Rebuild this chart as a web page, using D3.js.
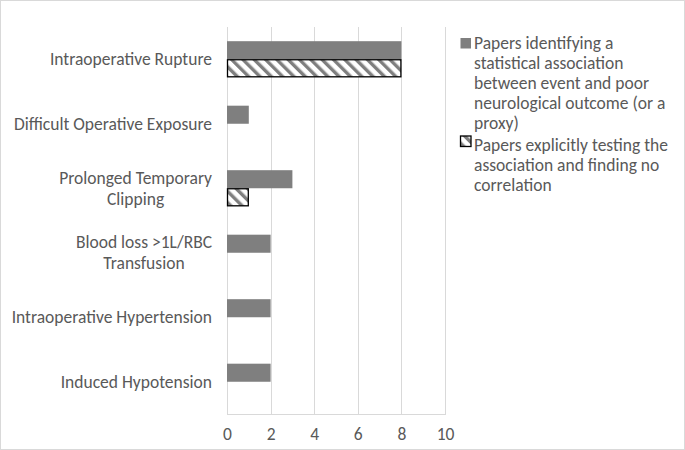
<!DOCTYPE html>
<html>
<head>
<meta charset="utf-8">
<script src="https://cdn.jsdelivr.net/npm/d3@7"></script>
<style>
  body { margin: 0; background: #fff; }
  text { font-family: Carlito, Lato, "Open Sans", sans-serif; fill: #595959; }
</style>
</head>
<body>
<script>
// categories, top to bottom
var categories = [
  ["Intraoperative Rupture"],
  ["Difficult Operative Exposure"],
  ["Prolonged Temporary", "Clipping"],
  ["Blood loss >1L/RBC", "Transfusion"],
  ["Intraoperative Hypertension"],
  ["Induced Hypotension"]
];
var identified = [8, 1, 3, 2, 2, 2];
var noCorrelation = [8, 0, 1, 0, 0, 0];
var xTicks = [0, 2, 4, 6, 8, 10];
var legendLabels = [
  ["Papers identifying a", "statistical association", "between event and poor", "neurological outcome (or a", "proxy)"],
  ["Papers explicitly testing the", "association and finding no", "correlation"]
];

var w = 685, h = 450;
var plot = {left: 227, right: 445, top: 27, bottom: 414};
var fontSize = "17.5px";

var svg = d3.select("body").append("svg")
    .attr("width", w)
    .attr("height", h);

// hatch pattern
var defs = svg.append("defs");
var pat = defs.append("pattern")
    .attr("id", "hatch")
    .attr("patternUnits", "userSpaceOnUse")
    .attr("width", 8)
    .attr("height", 8)
    .attr("patternTransform", "rotate(-45)");
pat.append("rect").attr("width", 8).attr("height", 8).attr("fill", "#fff");
pat.append("rect").attr("width", 3.4).attr("height", 8).attr("fill", "#7f7f7f");

// outer border
svg.append("rect")
    .attr("x", 0.5).attr("y", 0.5)
    .attr("width", w - 1).attr("height", h - 1)
    .attr("fill", "none")
    .attr("stroke", "#d9d9d9");

var x = d3.scaleLinear().domain([0, 10]).range([plot.left, plot.right]);
var y = d3.scaleBand()
    .domain(d3.range(categories.length))
    .range([plot.top, plot.bottom])
    .paddingInner(0.44)
    .paddingOuter(0.22);
var ySub = d3.scaleBand().domain([0, 1]).range([0, y.bandwidth()]);

// gridlines
svg.append("g").selectAll("line")
    .data(xTicks)
    .enter().append("line")
    .attr("x1", function(d) { return Math.round(x(d)) + 0.5; })
    .attr("x2", function(d) { return Math.round(x(d)) + 0.5; })
    .attr("y1", plot.top)
    .attr("y2", plot.bottom)
    .attr("stroke", "#d9d9d9");
svg.append("line")
    .attr("x1", plot.left).attr("x2", plot.right + 1)
    .attr("y1", plot.bottom + 0.5).attr("y2", plot.bottom + 0.5)
    .attr("stroke", "#d9d9d9");

// x axis tick labels
var xAxis = svg.append("g")
    .attr("transform", "translate(0," + (plot.bottom + 3) + ")")
    .call(d3.axisBottom(x).tickValues(xTicks).tickSize(0).tickPadding(11));
xAxis.select(".domain").remove();
xAxis.selectAll("text")
    .style("font-size", fontSize)
    .attr("fill", "#595959")
    .style("font-family", "Carlito, Lato, 'Open Sans', sans-serif");

// bars: papers identifying an association
svg.append("g").selectAll("rect")
    .data(identified)
    .enter().append("rect")
    .attr("x", x(0))
    .attr("y", function(d, i) { return y(i) + ySub(0); })
    .attr("width", function(d) { return x(d) - x(0); })
    .attr("height", ySub.bandwidth())
    .attr("fill", "#7f7f7f");

// bars: papers finding no correlation (hatched)
svg.append("g").selectAll("rect")
    .data(noCorrelation.map(function(v, i) { return {v: v, i: i}; }).filter(function(d) { return d.v > 0; }))
    .enter().append("rect")
    .attr("x", x(0) + 0.5)
    .attr("y", function(d) { return y(d.i) + ySub(1) + 0.5; })
    .attr("width", function(d) { return x(d.v) - x(0) - 1; })
    .attr("height", ySub.bandwidth() - 1)
    .attr("fill", "url(#hatch)")
    .attr("stroke", "#000")
    .attr("stroke-width", 1.3);

// category labels: block right-aligned, lines centered within block
var lineH = 21;
categories.forEach(function(lines, i) {
  var g = svg.append("g");
  var cy = y(i) + y.bandwidth() / 2;
  var y0 = cy - (lines.length - 1) * lineH / 2;
  var texts = lines.map(function(t, k) {
    return g.append("text")
      .attr("y", y0 + k * lineH)
      .attr("dy", "0.35em")
      .style("font-size", fontSize)
      .attr("text-anchor", "middle")
      .text(t);
  });
  var maxW = d3.max(texts, function(t) { return t.node().getComputedTextLength(); });
  var cx = 212 - maxW / 2;
  texts.forEach(function(t) { t.attr("x", cx); });
});

// legend
var legLine = 19.9;
var legY = [43.3, 145];
legendLabels.forEach(function(lines, i) {
  var g = svg.append("g").attr("transform", "translate(460," + legY[i] + ")");
  g.append("rect")
    .attr("x", 0.5).attr("y", i === 0 ? -5.3 : -9)
    .attr("width", 10.5).attr("height", 10.5)
    .attr("fill", i === 0 ? "#7f7f7f" : "url(#hatch)")
    .attr("stroke", i === 0 ? "none" : "#000")
    .attr("stroke-width", 1.3);
  lines.forEach(function(t, k) {
    g.append("text")
      .attr("x", 14)
      .attr("y", k * legLine)
      .attr("dy", "0.35em")
      .style("font-size", fontSize)
      .text(t);
  });
});
</script>
</body>
</html>
